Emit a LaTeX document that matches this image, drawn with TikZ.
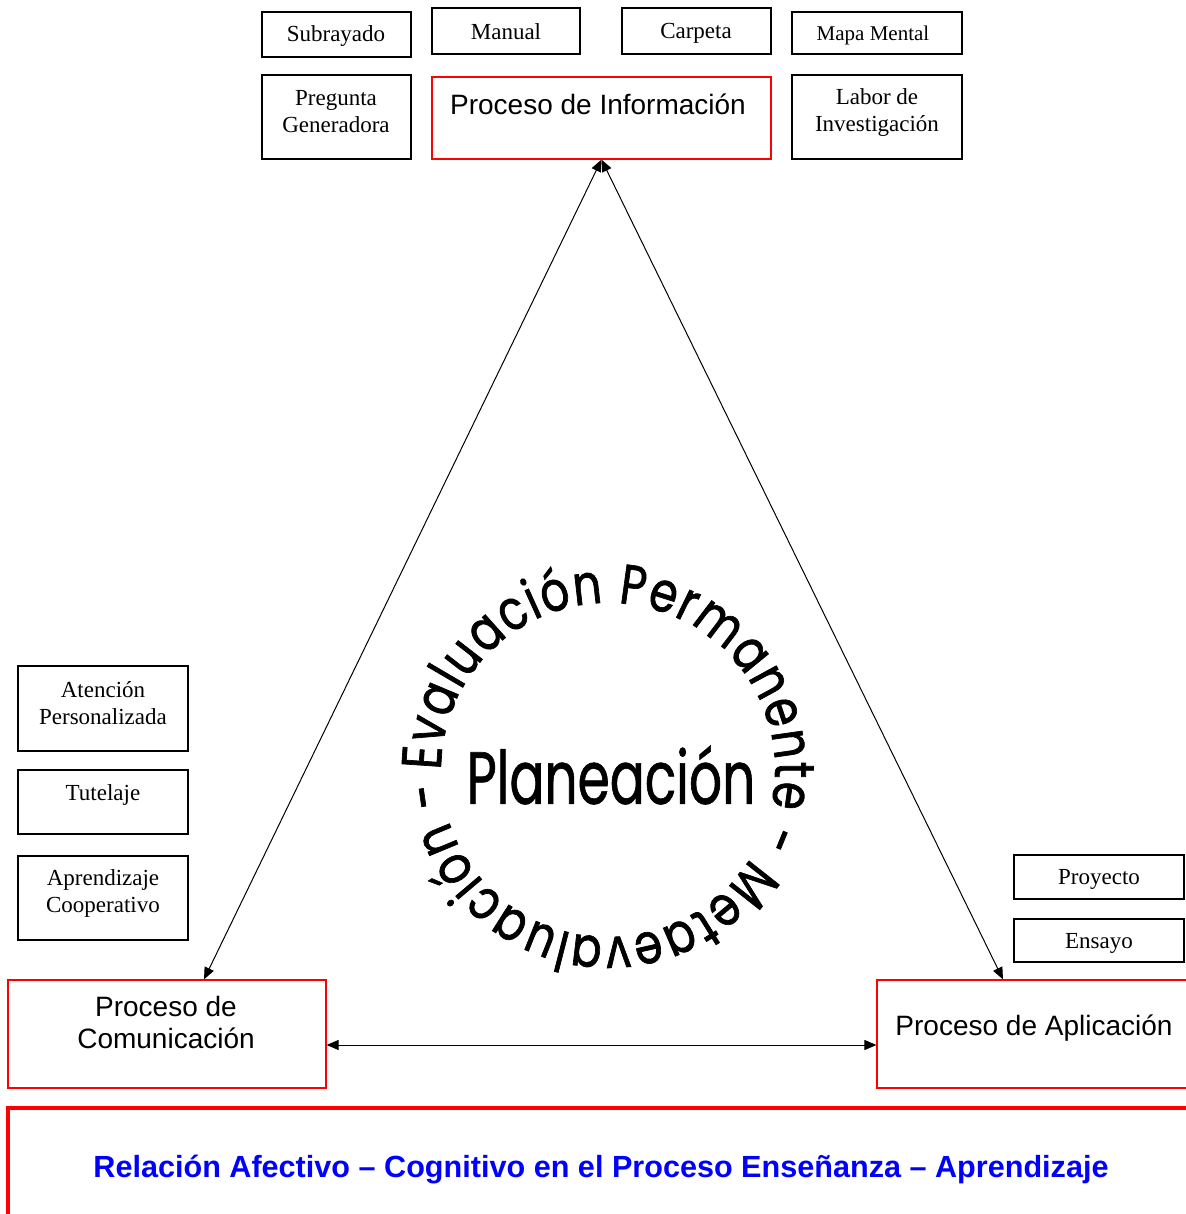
\documentclass[tikz,border=0pt]{standalone}
\usepackage{fontspec}
\setmainfont{Liberation Serif}
\newfontfamily\arial{Liberation Sans}
\newfontfamily\comic[FakeStretch=0.8, FakeBold=1.2]{Poppins}
\newfontfamily\comicplan[FakeStretch=0.7, FakeBold=0.8]{Poppins}
\usetikzlibrary{arrows.meta,decorations.text}

\begin{document}
\begin{tikzpicture}[x=0.5pt, y=-0.5pt, >={Triangle[length=6pt,width=5pt]},
    caja/.style={draw, line width=0.8pt, inner sep=0pt},
    proceso/.style={draw=red, line width=0.6pt, inner sep=0pt},
    texto/.style={align=center, inner sep=0pt, font=\fontsize{11.5}{13.5}\selectfont},
    textoproc/.style={align=center, inner sep=0pt, font=\arial\fontsize{14}{16}\selectfont},
    flecha/.style={<->, line width=0.5pt}]
    \useasboundingbox (0,0) rectangle (1185,1214);

    % the small boxes above Proceso de Informacion
    \node[caja, minimum width=74.5pt, minimum height=22.5pt] (sub) at (336.5,34.5) {};
    \node[texto] (subT) at (336,36) {Subrayado};
    \node[caja, minimum width=74pt, minimum height=23pt] (man) at (506,31) {};
    \node[texto] (manT) at (506,32) {Manual};
    \node[caja, minimum width=74.5pt, minimum height=23pt] (car) at (696.5,31) {};
    \node[texto] (carT) at (696,33) {Carpeta};
    \node[caja, minimum width=85pt, minimum height=21pt] (mapa) at (877,33) {};
    \node[texto, font=\fontsize{10.5}{12}\selectfont] (mapaT) at (873,35) {Mapa Mental};
    \node[caja, minimum width=74.5pt, minimum height=42pt] (preg) at (336.5,117) {};
    \node[texto] (pregT) at (336,112) {Pregunta\\Generadora};
    \node[caja, minimum width=85pt, minimum height=42pt] (lab) at (877,117) {};
    \node[texto] (labT) at (877,113) {Labor de\\Investigación};

    % the three process boxes (red)
    \node[proceso, minimum width=169.5pt, minimum height=41pt] (inf) at (601.5,118) {};
    \node[textoproc] (infT) at (598,104) {Proceso de Información};
    \node[proceso, minimum width=159pt, minimum height=54pt] (com) at (167,1034) {};
    \node[textoproc] (comT) at (166,1022) {Proceso de\\Comunicación};
    \node[proceso, minimum width=161.5pt, minimum height=54pt] (apl) at (1038.5,1034) {};
    \node[textoproc] (aplT) at (1034,1028) {Proceso de Aplicación};

    % the boxes on the left
    \node[caja, minimum width=85pt, minimum height=42.5pt] (ate) at (103,708.5) {};
    \node[texto] (ateT) at (103,703) {Atención\\Personalizada};
    \node[caja, minimum width=85pt, minimum height=32pt] (tut) at (103,802) {};
    \node[texto] (tutT) at (103,795) {Tutelaje};
    \node[caja, minimum width=85pt, minimum height=42pt] (apr) at (103,898) {};
    \node[texto] (aprT) at (103,893) {Aprendizaje\\Cooperativo};

    % the boxes on the right
    \node[caja, minimum width=85pt, minimum height=22pt] (pro) at (1099,877) {};
    \node[texto] (proT) at (1099,879) {Proyecto};
    \node[caja, minimum width=85pt, minimum height=21.5pt] (ens) at (1099,940.5) {};
    \node[texto] (ensT) at (1099,943) {Ensayo};

    % the arrows of the triangle
    \draw[flecha] (inf.south) -- ([xshift=18.5pt]com.north);
    \draw[flecha] (inf.south) -- ([xshift=-17.75pt]apl.north);
    \draw[flecha] ([yshift=-5.5pt]com.east) -- ([yshift=-5.5pt]apl.west);

    % the text round the circle
    \path[decorate, decoration={text along path, text align=fit to path,
        text={|\comic\fontsize{28}{28}\selectfont|Evaluación Permanente - Metaevaluación -}}]
        (608,770) ++(180:167) arc[start angle=180, end angle=536, radius=167];
    \node[font=\comicplan\fontsize{37}{37}\selectfont, inner sep=0pt] (plan) at (611,775) {Planeación};

    % the frame at the bottom
    \node[draw=red, line width=2pt, inner sep=0pt, minimum width=596pt, minimum height=61pt] (rel) at (604,1169) {};
    \node[inner sep=0pt, text=blue, font=\arial\bfseries\fontsize{15.3}{15.3}\selectfont] (relT) at (601,1170)
        {Relación Afectivo – Cognitivo en el Proceso Enseñanza – Aprendizaje};
\end{tikzpicture}
\end{document}
